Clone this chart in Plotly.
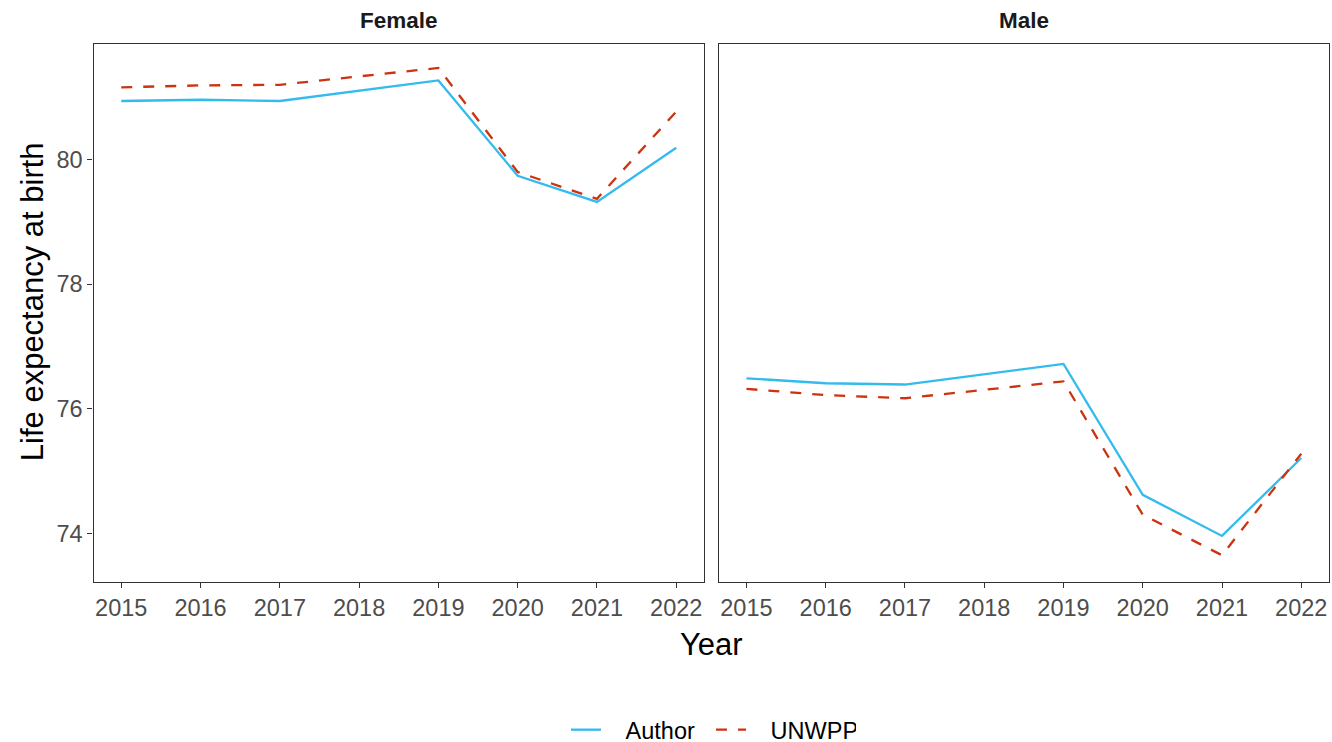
import plotly.graph_objects as go

years = [2015, 2016, 2017, 2018, 2019, 2020, 2021, 2022]
female_author = [80.94, 80.96, 80.94, 81.11, 81.27, 79.74, 79.32, 80.19]
female_unwpp = [81.16, 81.19, 81.20, 81.34, 81.47, 79.80, 79.37, 80.77]
male_author = [76.49, 76.41, 76.39, 76.56, 76.72, 74.62, 73.96, 75.21]
male_unwpp = [76.32, 76.22, 76.17, 76.30, 76.44, 74.30, 73.65, 75.28]
panels = ["Female", "Male"]
series_names = ["Author", "UNWPP"]
y_ticks = [74, 76, 78, 80]

W, H = 1332, 752
AUTHOR_C = "#33BBEE"
UNWPP_C = "#CC3311"
FONT = "Liberation Sans, Arial, sans-serif"
PAD = "\u00a0\u00a0\u00a0"


def px(x):
    return x / W


def py(y):
    fy = (y + 1.1) / 0.987
    return (H - fy) / H


fig = go.Figure()
series = [(female_author, female_unwpp, "x", "y"), (male_author, male_unwpp, "x2", "y2")]
for i, (a, u, xa, ya) in enumerate(series):
    fig.add_trace(go.Scatter(x=years, y=a, mode="lines", name=PAD + series_names[0],
                             line=dict(color=AUTHOR_C, width=2.3),
                             xaxis=xa, yaxis=ya, showlegend=(i == 0), legendgroup="a"))
    fig.add_trace(go.Scatter(x=years, y=u, mode="lines", name=PAD + series_names[1],
                             line=dict(color=UNWPP_C, width=2.3, dash="11px,11px"),
                             xaxis=xa, yaxis=ya, showlegend=(i == 0), legendgroup="u"))

x0a, x1a = px(93.5), px(704)
x0b, x1b = px(718.7), px(1329)
ybot, ytop = py(582.7), py(42.7)

axis_common = dict(showline=True, mirror=True, linecolor="#333333", linewidth=1.2,
                   showgrid=False, zeroline=False, ticks="outside", ticklen=5,
                   tickcolor="#333333", tickwidth=1.2,
                   tickfont=dict(family=FONT, size=23.5, color="#4D4D4D"))
xr = [2014.65, 2022.35]
yr = [73.22, 81.86]

fig.update_layout(
    width=W, height=H,
    margin=dict(l=0, r=0, t=0, b=0),
    plot_bgcolor="white", paper_bgcolor="white",
    font=dict(family=FONT, color="black"),
    xaxis=dict(domain=[x0a, x1a], range=xr, tickvals=years, anchor="y", **axis_common),
    xaxis2=dict(domain=[x0b, x1b], range=xr, tickvals=years, anchor="y2", **axis_common),
    yaxis=dict(domain=[ybot, ytop], range=yr, tickvals=y_ticks, anchor="x", **axis_common),
    yaxis2=dict(domain=[ybot, ytop], range=yr, tickvals=y_ticks, anchor="x2",
                **{**axis_common, "ticks": "", "showticklabels": False}),
    legend=dict(orientation="h", x=px(711), xanchor="center", y=py(731), yanchor="middle",
                font=dict(family=FONT, size=23.5, color="black"), bgcolor="rgba(0,0,0,0)",
                entrywidth=100),
    showlegend=True,
)

annotations = [
    dict(text="<b>" + panels[0] + "</b>", x=(x0a + x1a) / 2, y=py(19), xref="paper", yref="paper",
         xanchor="center", yanchor="middle",
         showarrow=False, font=dict(family=FONT, size=22.5, color="#1A1A1A")),
    dict(text="<b>" + panels[1] + "</b>", x=(x0b + x1b) / 2, y=py(19), xref="paper", yref="paper",
         xanchor="center", yanchor="middle",
         showarrow=False, font=dict(family=FONT, size=22.5, color="#1A1A1A")),
    dict(text="Year", x=px(711), y=py(645), xref="paper", yref="paper",
         xanchor="center", yanchor="middle",
         showarrow=False, font=dict(family=FONT, size=31, color="black")),
    dict(text="Life expectancy at birth", x=px(32), y=py(302), xref="paper", yref="paper",
         xanchor="center", yanchor="middle",
         showarrow=False, textangle=-90, font=dict(family=FONT, size=31, color="black")),
]
fig.update_layout(annotations=annotations)

fig.write_html("out.html", config={"displayModeBar": False},
               post_script="document.body.style.margin='0';document.body.style.overflow='hidden';")
